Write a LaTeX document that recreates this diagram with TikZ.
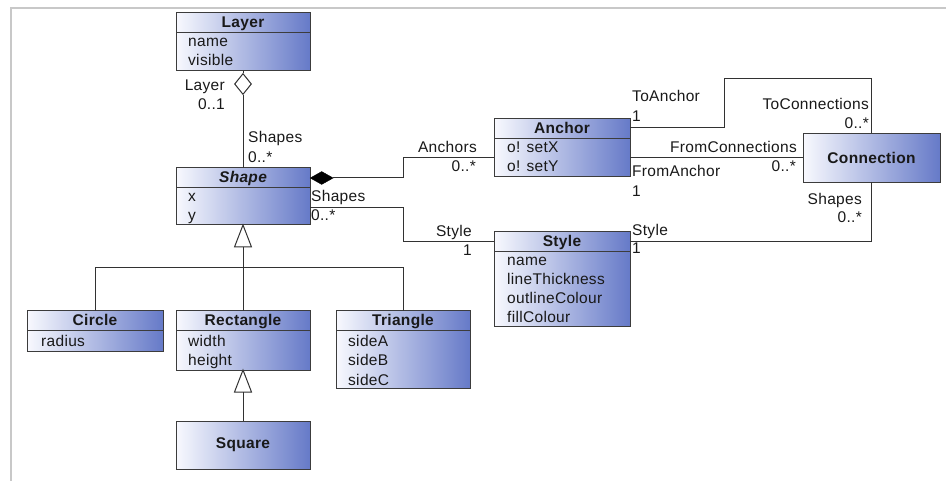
\documentclass[tikz,border=0pt]{standalone}
\usepackage{fontspec}
\setmainfont{Liberation Sans}[LetterSpace=2]
\usetikzlibrary{shapes.geometric}
\definecolor{gl}{RGB}{248,249,254}
\definecolor{gr}{RGB}{102,122,200}
\definecolor{bord}{RGB}{60,60,60}
\definecolor{lnc}{RGB}{50,50,50}
\definecolor{txt}{RGB}{25,25,25}
\definecolor{framec}{RGB}{200,200,200}
\begin{document}
\begin{tikzpicture}[x=1pt,y=-1pt,
  every node/.style={font=\fontsize{15.5}{18}\selectfont, text=txt},
  cls/.style={draw=bord, line width=1pt, left color=gl, right color=gr, anchor=north west, inner sep=0pt, outer sep=0pt},
  hdr/.style={anchor=base, inner sep=0pt, font=\fontsize{15.5}{18}\selectfont\bfseries},
  attr/.style={anchor=base west, inner sep=0pt},
  lblL/.style={anchor=base west, inner sep=0pt},
  lblR/.style={anchor=base east, inner sep=0pt},
  conn/.style={draw=lnc, line width=1pt},
  divl/.style={draw=bord, line width=1pt}]
\useasboundingbox (0,0) rectangle (946,481);
\draw[framec, line width=2pt] (946,8) -- (11,8) -- (11,481);

% Layer
\node[cls, minimum width=134pt, minimum height=58pt] (lay) at (176,13) {};
\draw[divl] (176,33) -- (310,33);
\node[hdr] at (243,28) {Layer};
\node[attr] at (188,47) {name};
\node[attr] at (188,66) {visible};

% Shape
\node[cls, minimum width=134pt, minimum height=57pt] (shp) at (176,168) {};
\draw[divl] (176,188) -- (310,188);
\node[hdr, font=\fontsize{15.5}{18}\selectfont\bfseries\itshape] at (243,183) {Shape};
\node[attr] at (188,202) {x};
\node[attr] at (188,221) {y};

% Anchor
\node[cls, minimum width=136pt, minimum height=58pt] (anch) at (494,119) {};
\draw[divl] (494,139) -- (630,139);
\node[hdr] at (562,134) {Anchor};
\node[attr] at (507,153) {o! setX};
\node[attr] at (507,172) {o! setY};

% Connection
\node[cls, minimum width=137pt, minimum height=49pt] (cbox) at (803,133.5) {};
\node[hdr, anchor=center] at (cbox.center) {Connection};

% Style
\node[cls, minimum width=136pt, minimum height=95pt] (sty) at (494,232) {};
\draw[divl] (494,252) -- (630,252);
\node[hdr] at (562,247) {Style};
\node[attr] at (507,266) {name};
\node[attr] at (507,285) {lineThickness};
\node[attr] at (507,304) {outlineColour};
\node[attr] at (507,323) {fillColour};

% Circle
\node[cls, minimum width=136pt, minimum height=41pt] (circ) at (27,311) {};
\draw[divl] (27,331) -- (163,331);
\node[hdr] at (95,326) {Circle};
\node[attr] at (41,347) {radius};

% Rectangle
\node[cls, minimum width=134pt, minimum height=59pt] (rect) at (176,311) {};
\draw[divl] (176,331) -- (310,331);
\node[hdr] at (243,326) {Rectangle};
\node[attr] at (188,347) {width};
\node[attr] at (188,366) {height};

% Triangle
\node[cls, minimum width=134pt, minimum height=77pt] (tri) at (336,311) {};
\draw[divl] (336,331) -- (470,331);
\node[hdr] at (403,326) {Triangle};
\node[attr] at (348,347) {sideA};
\node[attr] at (348,366) {sideB};
\node[attr] at (348,385) {sideC};

% Square
\node[cls, minimum width=134pt, minimum height=48pt] (sq) at (176,421) {};
\node[hdr, anchor=center] at (sq.center) {Square};

% Layer -- Shape aggregation
\node[diamond, draw=lnc, fill=white, line width=1pt, minimum width=17pt, minimum height=21pt, inner sep=0pt] (aggd) at (243,84) {};
\draw[conn] (lay.south) -- (aggd.north);
\draw[conn] (aggd.south) -- (shp.north);
\node[lblR] at (225,91) {Layer};
\node[lblR] at (225,110) {0..1};
\node[lblL] at (248,143) {Shapes};
\node[lblL] at (248,163) {0..*};

% Shape -- Anchor composition
\node[diamond, draw=black, fill=black, minimum width=23pt, minimum height=13pt, inner sep=0pt, anchor=west] (compd) at ([yshift=-10pt]shp.north east) {};
\coordinate (c1) at (403,178);
\draw[conn] (compd.east) -- (c1) |- ([yshift=-10pt]anch.west);
\node[lblR] at (477,153) {Anchors};
\node[lblR] at (476,172) {0..*};

% Shape -- Style
\coordinate (c2) at (403,208);
\draw[conn] ([yshift=17pt]shp.south east) -- (c2) |- ([yshift=-10pt]sty.north west);
\node[lblL] at (311,202) {Shapes};
\node[lblL] at (311,221) {0..*};
\node[lblR] at (472,237) {Style};
\node[lblR] at (472,256) {1};

% Anchor -- Connection (ToAnchor)
\coordinate (c3) at (724,79);
\draw[conn] ([yshift=20pt]anch.east) -| (c3) -| (cbox.north);
\node[lblL] at (632,102) {ToAnchor};
\node[lblL] at (632,122) {1};
\node[lblR] at (869,110) {ToConnections};
\node[lblR] at (869,129) {0..*};

% Anchor -- Connection (FromAnchor)
\draw[conn] (anch.east |- cbox.west) -- (cbox.west);
\node[lblR] at (797,153) {FromConnections};
\node[lblR] at (796,172) {0..*};
\node[lblL] at (632,177) {FromAnchor};
\node[lblL] at (632,197) {1};

% Connection -- Style
\draw[conn] (cbox.south) |- ([yshift=-10pt]sty.north east);
\node[lblR] at (862,205) {Shapes};
\node[lblR] at (862,223) {0..*};
\node[lblL] at (632,236) {Style};
\node[lblL] at (632,254) {1};

% Generalisation Shape <- Circle, Rectangle, Triangle
\draw[conn, fill=white] (shp.south) -- ++(-8.5,22) -- ++(17,0) -- cycle;
\coordinate (gb) at (243,247);
\coordinate (hb) at (243,268);
\draw[conn] (gb) -- (rect.north);
\draw[conn] (circ.north) -- (circ.north |- hb) -- (tri.north |- hb) -- (tri.north);

% Generalisation Rectangle <- Square
\draw[conn, fill=white] (rect.south) -- ++(-8.5,22) -- ++(17,0) -- cycle;
\coordinate (gb2) at (243,392);
\draw[conn] (gb2) -- (sq.north);
\end{tikzpicture}
\end{document}
